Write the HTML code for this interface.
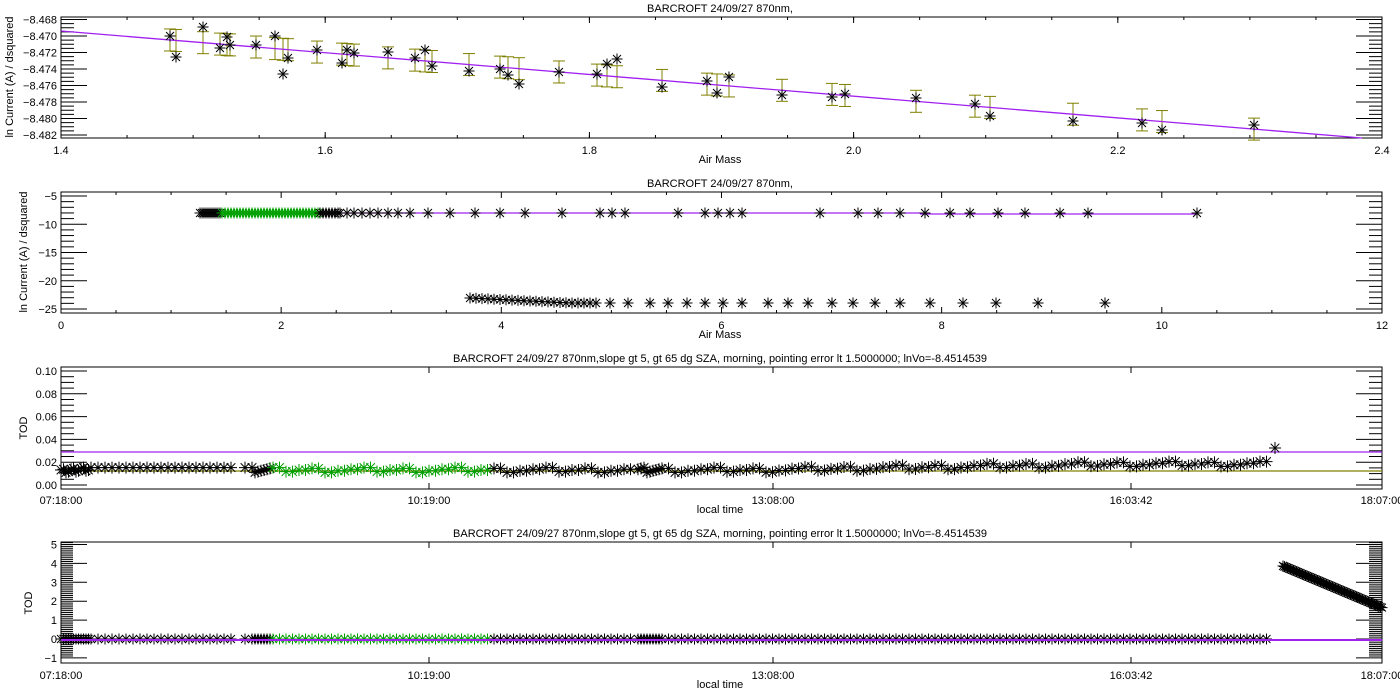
<!DOCTYPE html>
<html><head><meta charset="utf-8"><style>
html,body{margin:0;padding:0;background:#fff;width:1400px;height:700px;overflow:hidden}
svg{display:block}
text{font-family:"Liberation Sans",sans-serif;font-size:11px;fill:#000}
</style></head><body>
<svg id="s" width="1400" height="700" viewBox="0 0 1400 700" xmlns="http://www.w3.org/2000/svg">
<g id="g"></g>
<text x="720" y="12" text-anchor="middle" font-size="12">BARCROFT 24/09/27 870nm,</text>
<text x="720" y="187" text-anchor="middle" font-size="12">BARCROFT 24/09/27 870nm,</text>
<text x="720" y="362" text-anchor="middle" font-size="12">BARCROFT 24/09/27 870nm,slope gt 5, gt 65 dg SZA, morning, pointing error lt 1.5000000; lnVo=-8.4514539</text>
<text x="720" y="537" text-anchor="middle" font-size="12">BARCROFT 24/09/27 870nm,slope gt 5, gt 65 dg SZA, morning, pointing error lt 1.5000000; lnVo=-8.4514539</text>
<text x="720" y="163" text-anchor="middle" font-size="10">Air Mass</text>
<text x="720" y="338" text-anchor="middle" font-size="10">Air Mass</text>
<text x="720" y="513" text-anchor="middle" font-size="10">local time</text>
<text x="720" y="688" text-anchor="middle" font-size="10">local time</text>
<text transform="translate(13,77) rotate(-90)" text-anchor="middle" font-size="10">ln Current (A) / dsquared</text>
<text transform="translate(27,252) rotate(-90)" text-anchor="middle" font-size="10">ln Current (A) / dsquared</text>
<text transform="translate(27,428) rotate(-90)" text-anchor="middle" font-size="10">TOD</text>
<text transform="translate(32,603) rotate(-90)" text-anchor="middle" font-size="10">TOD</text>
</svg>
<script>
var G=document.getElementById('g');
var out=[];
function L(x1,y1,x2,y2,c,w){out.push('<line x1="'+x1+'" y1="'+y1+'" x2="'+x2+'" y2="'+y2+'" stroke="'+(c||'#000')+'" stroke-width="'+(w||1)+'"/>');}
function T(x,y,t,a){out.push('<text x="'+x+'" y="'+y+'" text-anchor="'+(a||'middle')+'">'+t+'</text>');}
function star(x,y,c,r){r=r||5.5;var d=r*0.72;out.push('<path d="M'+(x-r)+' '+y+'H'+(x+r)+'M'+x+' '+(y-r)+'V'+(y+r)+'M'+(x-d)+' '+(y-d)+'L'+(x+d)+' '+(y+d)+'M'+(x-d)+' '+(y+d)+'L'+(x+d)+' '+(y-d)+'" stroke="'+(c||'#000')+'" stroke-width="1" fill="none"/>');}
function box(t,b){out.push('<rect x="61" y="'+t+'" width="1321" height="'+(b-t)+'" fill="none" stroke="#000"/>');}
var X0=61,X1=1382;
// Panel 1
var t1=17,b1=138;
function y1(v){return 36+(-8.470-v)/0.002*16.5;}
box(t1,b1);
for(var v=-8.468;v>=-8.4821;v-=0.0005){var y=y1(v);if(y<t1||y>b1)continue;var maj=Math.abs(Math.round(v*1e4)%20)<1e-6;L(X0,y,X0+(maj?26:13),y);L(X1,y,X1-(maj?26:13),y);}
for(var k=0;k<=7;k++){var v=-8.468-0.002*k;T(57,y1(v)+4,v.toFixed(3).replace('-','\u2212'),'end');}
for(var k=0;k<=5;k++){var x=X0+k*264.2;L(x,b1,x,b1-6);L(x,t1,x,t1+6);T(x,154,(1.4+0.2*k).toFixed(1));}
for(var k=0;k<=20;k++){var x=X0+k*66.05;L(x,b1,x,b1-3);L(x,t1,x,t1+3);}
var p1=[[170,36],[176,57],[203,27],[220,48],[227,37],[230,45],[256,45],[275,36],[283,74],[288,58],[317,50],[342,63],[347,50],[354,53],[388,52],[415,58],[425,50],[432,66],[469,71],[500,69],[508,75],[519,84],[559,72],[597,74],[607,64],[617,59],[662,87],[707,81],[717,93],[729,77],[782,95],[832,97],[845,94],[916,98],[975,104],[990,116],[1073,121],[1142,123],[1162,130],[1254,125]];
function fit(x){return 31+(x-61)*(107/1301);}
p1.forEach(function(p){var c=fit(p[0]);var h=11;L(p[0],c-h,p[0],c+h,'#808000');L(p[0]-6,c-h,p[0]+6,c-h,'#808000');L(p[0]-6,c+h,p[0]+6,c+h,'#808000');});
L(61,31,1362,138,'#a020f0',1.3);
p1.forEach(function(p){star(p[0],p[1]);});
// Panel 2
var t2=192,b2=313;
function y2(v){return 196+(-5-v)*5.65;}
box(t2,b2);
for(var v=-5;v>=-25;v--){var y=y2(v);var maj=v%5==0;L(X0,y,X0+(maj?26:13),y);L(X1,y,X1-(maj?26:13),y);}
for(var v=-5;v>=-25;v-=5)T(57,y2(v)+4,String(v).replace('-','\u2212'),'end');
for(var k=0;k<=24;k++){var x=X0+k*55.04;var maj=k%4==0;L(x,b2,x,b2-(maj?6:3));L(x,t2,x,t2+(maj?6:3));if(maj)T(x,329,String(k/2));}
var up=[];for(var x=200;x<222;x+=2)up.push([x,'#000']);for(var x=222;x<320;x+=3)up.push([x,'#00a000']);
for(var x=320;x<340;x+=3)up.push([x,'#000']);
[340,347,354,362,370,378,388,398,410,428,450,475,500,525,562,600,612,625,678,705,718,730,742,820,858,878,900,925,950,970,998,1025,1060,1088,1197].forEach(function(x){up.push([x,'#000']);});
L(200,213,920,213,'#a020f0',1.3);L(920,214,1197,214,'#a020f0',1.3);
up.forEach(function(p){star(p[0],213,p[1]);});
var lo=[];for(var x=470;x<600;x+=6)lo.push(x);
[610,628,650,668,687,705,723,742,768,788,808,832,853,875,900,930,963,996,1038,1105].forEach(function(x){lo.push(x);});
lo.forEach(function(x,i){star(x,Math.min(303,298+i*0.3));});
function taxis(t,b,ly){[[61,'07:18:00'],[429,'10:19:00'],[773,'13:08:00'],[1131,'16:03:42'],[1382,'18:07:00']].forEach(function(a){L(a[0],b,a[0],b-6);L(a[0],t,a[0],t+6);T(a[0],ly,a[1]);});}
// Panel 3
var t3=367,b3=489;
function y3(v){return 485-1140*v;}
box(t3,b3);
for(var k=0;k<=20;k++){var v=k*0.005;var y=y3(v);var maj=k%4==0;L(X0,y,X0+(maj?26:13),y);L(X1,y,X1-(maj?26:13),y);}
for(var k=0;k<=5;k++)T(57,y3(k*0.02)+4,(k*0.02).toFixed(2),'end');
taxis(t3,b3,504);
L(61,452,1382,452,'#a020f0',1.3);L(61,471,1382,471,'#808000',1.3);
function pts(cb){for(var x=61;x<1270;){var c='#000';if(x>=272&&x<=490)c='#00a000';cb(x,c);if(x<90)x+=2.5;else if(x>230&&x<245)x=245;else if(x<272)x+=(x>245?3:7);else if(x>625&&x<638)x=638;else if(x>=638&&x<660)x+=3;else x+=6.5;}}
pts(function(x,c){var base=x<760?470:470-Math.min(6,(x-760)/60);var j=((Math.round(x)*37)%7-3)*0.8;star(x,base+j,c,6);});
star(1275,448,'#000',6);
// Panel 4
var t4=542,b4=663;
function y4(v){return 639-18.9*v;}
box(t4,b4);
for(var k=-10;k<=52;k++){var v=k/10;var y=y4(v);if(y<t4||y>b4)continue;var maj=k%10==0;L(X0,y,X0+(maj?26:12),y);L(X1,y,X1-(maj?26:13),y);}
for(var v=-1;v<=5;v++)T(57,y4(v)+4,String(v).replace('-','\u2212'),'end');
taxis(t4,b4,679);
pts(function(x,c){star(x,639,c);});
L(61,640,1382,640,'#a020f0',2);
for(var x=1283;x<=1382;x+=1.5){star(x,566+(x-1283)*0.42,'#000');}
G.innerHTML=out.join('');
</script>
</body></html>
